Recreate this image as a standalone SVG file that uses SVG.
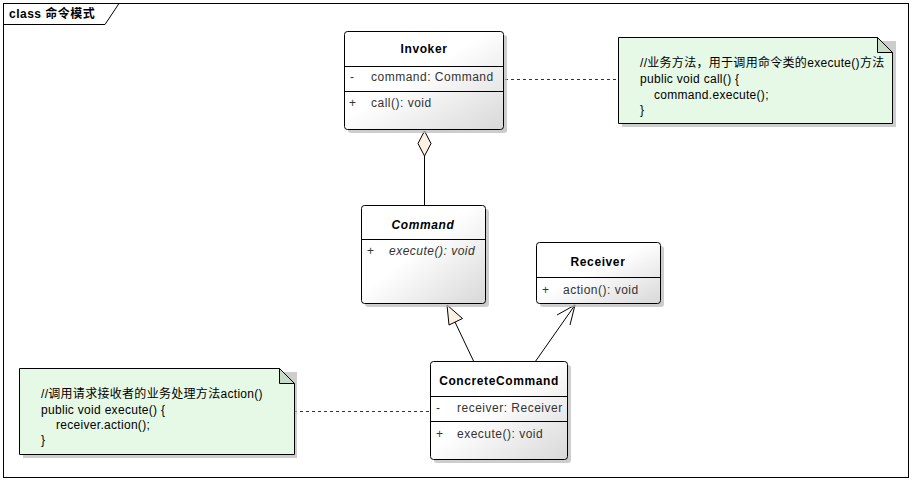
<svg xmlns="http://www.w3.org/2000/svg" width="912" height="481" viewBox="0 0 912 481">
  <style>
    .t { font-family: "Liberation Sans", Arial, sans-serif; font-size: 12px; fill: #000; letter-spacing: 0.6px; }
    .m { font-family: "Liberation Sans", Arial, sans-serif; font-size: 12px; fill: #333; letter-spacing: 0.5px; }
    .title { font-weight: bold; text-anchor: middle; }
    .it { font-style: italic; }
    .vis { font-family: "Liberation Sans", Arial, sans-serif; font-size: 12px; fill: #333; }
    .note { font-family: "Liberation Sans", "Noto Sans CJK SC", sans-serif; font-size: 12px; fill: #000; letter-spacing: 0.3px; }
    .box { fill: url(#cls); stroke: #000; stroke-width: 1; }
    .shadow { fill: #b8b8b8; opacity: 0.7; }
    .div { stroke: #000; stroke-width: 1; }
    .conn { stroke: #000; stroke-width: 1; fill: none; }
    .dash { stroke: #333; stroke-width: 1; stroke-dasharray: 3 3; fill: none; }
    .notebox { fill: #e6f8e6; stroke: #000; stroke-width: 1; }
  </style>
  <defs>
    <linearGradient id="cls" x1="0" y1="0" x2="1" y2="1">
      <stop offset="0" stop-color="#ffffff"/>
      <stop offset="0.45" stop-color="#ffffff"/>
      <stop offset="1" stop-color="#d8d8d8"/>
    </linearGradient>
  </defs>

  <rect x="0" y="0" width="912" height="481" fill="#fff"/>

  <!-- diagram frame -->
  <g id="frame">
    <rect x="3.5" y="3.5" width="905" height="474" fill="none" stroke="#000"/>
    <path d="M3.5 24.5 H105 L119 3.5" fill="none" stroke="#000"/>
    <text x="9" y="18" font-family="'Liberation Sans', 'Noto Sans CJK SC', sans-serif" font-size="12" font-weight="bold" letter-spacing="0.5">class 命令模式</text>
  </g>

  <!-- connectors -->
  <g id="connectors">
    <line class="conn" x1="424.5" y1="156" x2="424.5" y2="206"/>
    <polygon points="424.5,131 431,143.5 424.5,156 418,143.5" fill="#fdf1e2" stroke="#000"/>
    <line class="conn" x1="474" y1="362" x2="455" y2="322"/>
    <polygon points="447,305 462.5,318.5 449,325" fill="#fdf1e2" stroke="#000"/>
    <line class="conn" x1="535" y1="362" x2="575" y2="305"/>
    <polyline class="conn" points="557,315 575,305 570,325"/>
    <line class="dash" x1="505" y1="79.5" x2="619" y2="79.5"/>
    <line class="dash" x1="294" y1="411.5" x2="431" y2="411.5"/>
  </g>

  <!-- Invoker -->
  <g id="invoker">
    <rect class="shadow" x="348" y="35" width="159" height="98" rx="3"/>
    <rect class="box" x="344.5" y="31.5" width="159" height="98" rx="3"/>
    <text class="t title" x="424" y="53">Invoker</text>
    <line class="div" x1="344.5" y1="66.5" x2="503.5" y2="66.5"/>
    <text class="vis" x="350" y="81">-</text>
    <text class="m" x="371" y="81">command: Command</text>
    <line class="div" x1="344.5" y1="91.5" x2="503.5" y2="91.5"/>
    <text class="vis" x="349" y="107">+</text>
    <text class="m" x="371" y="107">call(): void</text>
  </g>

  <!-- Command -->
  <g id="command">
    <rect class="shadow" x="365" y="209" width="124" height="98" rx="3"/>
    <rect class="box" x="361.5" y="205.5" width="124" height="98" rx="3"/>
    <text class="t title it" x="423" y="229">Command</text>
    <line class="div" x1="361.5" y1="239.5" x2="485.5" y2="239.5"/>
    <text class="vis" x="367" y="255">+</text>
    <text class="m it" x="389" y="255">execute(): void</text>
  </g>

  <!-- Receiver -->
  <g id="receiver">
    <rect class="shadow" x="540" y="246" width="124" height="61" rx="3"/>
    <rect class="box" x="536.5" y="242.5" width="124" height="61" rx="3"/>
    <text class="t title" x="598" y="266">Receiver</text>
    <line class="div" x1="536.5" y1="277.5" x2="660.5" y2="277.5"/>
    <text class="vis" x="542" y="294">+</text>
    <text class="m" x="563" y="294">action(): void</text>
  </g>

  <!-- ConcreteCommand -->
  <g id="concrete-command">
    <rect class="shadow" x="434" y="365" width="137" height="98" rx="3"/>
    <rect class="box" x="430.5" y="361.5" width="137" height="98" rx="3"/>
    <text class="t title" x="499" y="385">ConcreteCommand</text>
    <line class="div" x1="430.5" y1="396.5" x2="567.5" y2="396.5"/>
    <text class="vis" x="436" y="412">-</text>
    <text class="m" x="457" y="412">receiver: Receiver</text>
    <line class="div" x1="430.5" y1="421.5" x2="567.5" y2="421.5"/>
    <text class="vis" x="436" y="438">+</text>
    <text class="m" x="457" y="438">execute(): void</text>
  </g>

  <!-- note for Invoker -->
  <g id="note-invoker">
    <path d="M622 41 H896 V127 H622 Z" class="shadow"/>
    <path class="notebox" d="M618.5 37.5 H877.5 L892.5 52.5 V123.5 H618.5 Z"/>
    <path d="M877.5 37.5 V52.5 H892.5 Z" fill="#c6dcc6" stroke="#000"/>
    <text class="note" x="640" y="67">//业务方法，用于调用命令类的execute()方法</text>
    <text class="note" x="640" y="83">public void call() {</text>
    <text class="note" x="654" y="99">command.execute();</text>
    <text class="note" x="640" y="114">}</text>
  </g>

  <!-- note for ConcreteCommand -->
  <g id="note-concrete">
    <path d="M23 372 H297 V458 H23 Z" class="shadow"/>
    <path class="notebox" d="M19.5 368.5 H279.5 L294.5 383.5 V454.5 H19.5 Z"/>
    <path d="M279.5 368.5 V383.5 H294.5 Z" fill="#c6dcc6" stroke="#000"/>
    <text class="note" x="41" y="398">//调用请求接收者的业务处理方法action()</text>
    <text class="note" x="41" y="414">public void execute() {</text>
    <text class="note" x="56" y="429">receiver.action();</text>
    <text class="note" x="41" y="444">}</text>
  </g>
</svg>
